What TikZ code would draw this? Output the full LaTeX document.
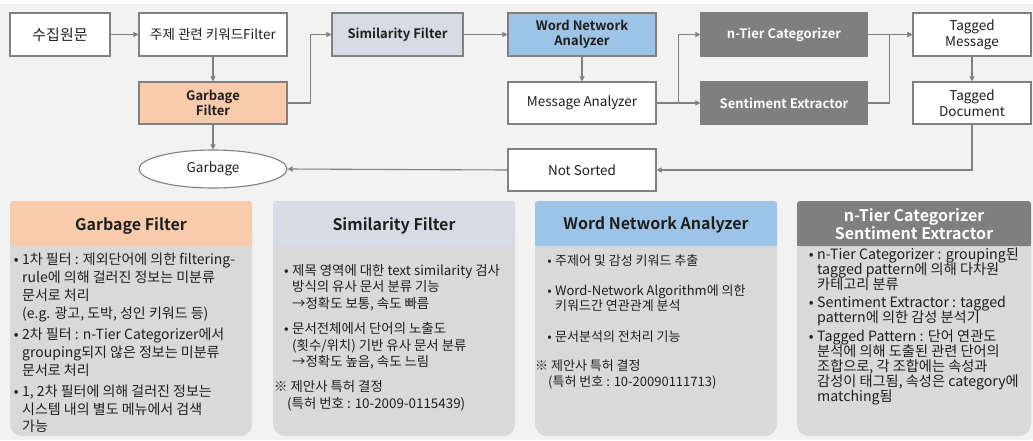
\documentclass[tikz,border=0pt]{standalone}
\usepackage{fontspec}
\setmainfont{Noto Sans CJK KR}[BoldFont={Noto Sans CJK KR Bold}]
\usetikzlibrary{arrows.meta,shapes.geometric}
\definecolor{bgc}{HTML}{F2F2F2}
\definecolor{linec}{HTML}{808080}
\definecolor{orangec}{HTML}{F8CBAD}
\definecolor{simc}{HTML}{D6DCE5}
\definecolor{wnac}{HTML}{9DC3E6}
\definecolor{darkc}{HTML}{7F7F7F}
\definecolor{bodyc}{HTML}{D9D9D9}
\definecolor{txtc}{HTML}{1F1F1F}
\newcommand\mybul{\llap{•\hspace{3.5pt}}}
\newcommand\mkpanel[3]{%
  \fill[bodyc, rounded corners=12pt] (#1,220) rectangle (#2,436);
  \fill[#3, rounded corners=3pt] (#1,201) rectangle (#2,246);
  \fill[#3] (#1,236) rectangle (#2,246);
}
\tikzset{
  flowbox/.style={draw=linec, line width=1.1pt, minimum height=43pt, inner sep=2pt, align=center, text=txtc,
    font=\fontsize{13.5}{16}\selectfont},
  boldbox/.style={flowbox, font=\fontsize{13}{15.5}\selectfont\bfseries},
  arr/.style={draw=linec, line width=1.1pt, -{Triangle[length=5pt,width=5pt]}},
  txt/.style={anchor=base west, inner sep=0pt, text=txtc},
  txta/.style={txt, font=\fontsize{14}{16}\selectfont},
  txtb/.style={txt, font=\fontsize{13.4}{16}\selectfont},
  txtc/.style={txt, font=\fontsize{13}{16}\selectfont},
  txtd/.style={txt, font=\fontsize{14.2}{16}\selectfont},
  head/.style={anchor=base, inner sep=0pt, text=txtc, font=\fontsize{16}{18.5}\selectfont\bfseries},
}
\begin{document}
\begin{tikzpicture}[x=1pt,y=-1pt]
\useasboundingbox (0,0) rectangle (1033,440);
\fill[white] (0,0) rectangle (1033,440);
\fill[bgc] (0,4) rectangle (1033,440);

% ---------- flow ----------
\node[flowbox, fill=white, minimum width=100pt, font=\fontsize{15}{16}\selectfont] (src) at (60,34.5) {수집원문};
\node[flowbox, fill=white, minimum width=148pt] (kw) at (213,34.5) {주제 관련 키워드Filter};
\node[boldbox, fill=orangec, minimum width=148pt, minimum height=42pt] (gf) at (213,103) {Garbage\\Filter};
\node[draw=linec, line width=1.1pt, fill=white, ellipse, minimum width=148pt, minimum height=38pt, inner sep=0pt,
      text=txtc, font=\fontsize{13.5}{16}\selectfont] (gb) at (213,169) {Garbage};
\node[boldbox, fill=simc, minimum width=131pt] (sim) at (397.5,34.5) {Similarity Filter};
\node[boldbox, fill=wnac, minimum width=148pt] (wna) at (582,34.5) {Word Network\\Analyzer};
\node[flowbox, fill=white, minimum width=148pt, minimum height=42pt] (msg) at (582,103) {Message Analyzer};
\node[flowbox, fill=white, minimum width=148pt, minimum height=42pt] (ns) at (582,170) {Not Sorted};
\node[boldbox, fill=darkc, draw=darkc, text=white, minimum width=166pt] (nt) at (784,34.5) {n-Tier Categorizer};
\node[boldbox, fill=darkc, draw=darkc, text=white, minimum width=166pt, minimum height=42pt] (se) at (784,103) {Sentiment Extractor};
\node[flowbox, fill=white, minimum width=118pt] (tm) at (972,34.5) {Tagged\\Message};
\node[flowbox, fill=white, minimum width=118pt, minimum height=42pt] (td) at (972,103) {Tagged\\Document};

\draw[arr] (src) -- (kw);
\draw[arr] (kw) -- (gf);
\draw[arr] (gf) -- (gb);
\draw[arr] (gf.east) -- ++(23,0) |- (sim.west);
\draw[arr] (sim) -- (wna);
\draw[arr] (wna) -- (msg);
\draw[arr] (msg.east) -- (se.west);
\draw[arr] (msg.east) -- ++(22,0) |- (nt.west);
\draw[arr] (nt.east) -- (tm.west);
\draw[arr] (se.east) -- ++(22,0) |- (tm.west);
\draw[arr] (tm) -- (td);
\draw[arr] (td.south) |- (ns.east);
\draw[arr] (ns.west) -- (gb.east);

% ---------- panels ----------
\mkpanel{10}{252}{orangec}
\mkpanel{273}{515}{simc}
\mkpanel{535}{777}{wnac}
\mkpanel{797}{1031}{darkc}

\node[head] (h1) at (131,230.5) {Garbage Filter};
\node[head] (h2) at (394,230.5) {Similarity Filter};
\node[head] (h3) at (656,229) {Word Network Analyzer};
\node[head, text=white] (h4) at (914,221) {n-Tier Categorizer};
\node[head, text=white] (h4b) at (914,239) {Sentiment Extractor};

% panel 1
\node[txta] (a1) at (22,264) {\mybul 1차 필터 : 제외단어에 의한 filtering-};
\node[txta] (a2) at (22,282.3) {rule에 의해 걸러진 정보는 미분류};
\node[txta] (a3) at (22,300) {문서로 처리};
\node[txta] (a4) at (22,318.3) {(e.g. 광고, 도박, 성인 키워드 등)};
\node[txta] (a5) at (22,339) {\mybul 2차 필터 : n-Tier Categorizer에서};
\node[txta] (a6) at (22,357.3) {grouping되지 않은 정보는 미분류};
\node[txta] (a7) at (22,375) {문서로 처리};
\node[txta] (a8) at (22,396.7) {\mybul 1, 2차 필터에 의해 걸러진 정보는};
\node[txta] (a9) at (22,414.3) {시스템 내의 별도 메뉴에서 검색};
\node[txta] (a10) at (22,431) {가능};

% panel 2
\node[txtb] (b1) at (292,275) {\mybul 제목 영역에 대한 text similarity 검사};
\node[txtb] (b2) at (292,291.7) {방식의 유사 문서 분류 기능};
\node[txtb] (b3) at (292,308.3) {→정확도 보통, 속도 빠름};
\node[txtb] (b4) at (292,333.3) {\mybul 문서전체에서 단어의 노출도};
\node[txtb] (b5) at (292,350) {(횟수/위치) 기반 유사 문서 분류};
\node[txtb] (b6) at (292,366.7) {→정확도 높음, 속도 느림};
\node[txtb] (b7) at (274,391.7) {※ 제안사 특허 결정};
\node[txtb] (b8) at (287,408.3) {(특허 번호 : 10-2009-0115439)};

% panel 3
\node[txtc] (c1) at (555,265) {\mybul 주제어 및 감성 키워드 추출};
\node[txtc] (c2) at (555,295) {\mybul Word-Network Algorithm에 의한};
\node[txtc] (c3) at (555,310) {키워드간 연관관계 분석};
\node[txtc] (c4) at (555,341.7) {\mybul 문서분석의 전처리 기능};
\node[txtc] (c5) at (535,370) {※ 제안사 특허 결정};
\node[txtc] (c6) at (548,386.7) {(특허 번호 : 10-20090111713)};

% panel 4
\node[txtd] (d1) at (817,259.5) {\mybul n-Tier Categorizer : grouping된};
\node[txtd] (d2) at (817,274.5) {tagged pattern에 의해 다차원};
\node[txtd] (d3) at (817,289.5) {카테고리 분류};
\node[txtd] (d4) at (817,307) {\mybul Sentiment Extractor : tagged};
\node[txtd] (d5) at (817,322) {pattern에 의한 감성 분석기};
\node[txtd] (d6) at (817,341) {\mybul Tagged Pattern : 단어 연관도};
\node[txtd] (d7) at (817,356) {분석에 의해 도출된 관련 단어의};
\node[txtd] (d8) at (817,371) {조합으로, 각 조합에는 속성과};
\node[txtd] (d9) at (817,386) {감성이 태그됨, 속성은 category에};
\node[txtd] (d10) at (817,401) {matching됨};
\end{tikzpicture}
\end{document}
